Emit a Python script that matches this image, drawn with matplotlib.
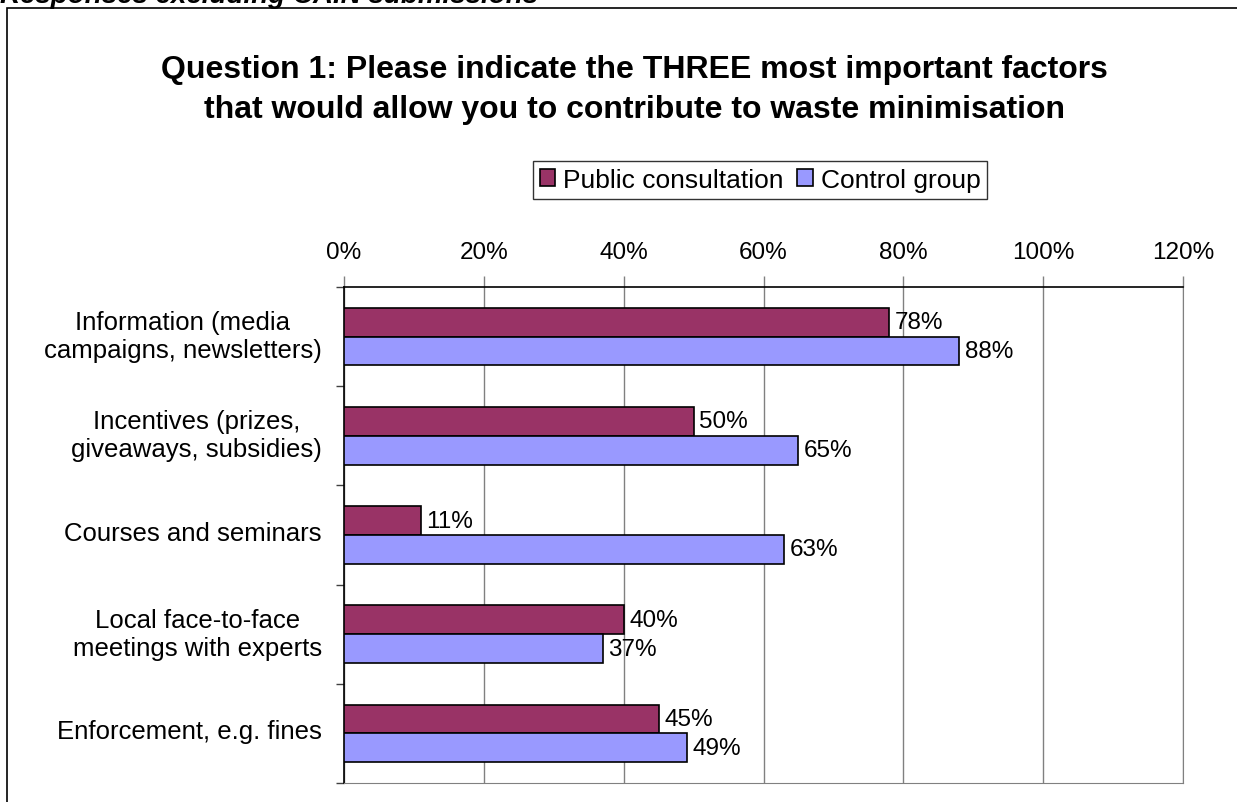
import numpy as np
import matplotlib.pyplot as plt
from matplotlib.patches import Rectangle
from matplotlib.ticker import MultipleLocator, FuncFormatter

plt.rcParams['font.family'] = ['Liberation Sans', 'DejaVu Sans']

categories = [
    'Information (media\ncampaigns, newsletters)',
    'Incentives (prizes,\ngiveaways, subsidies)',
    'Courses and seminars',
    'Local face-to-face\nmeetings with experts',
    'Enforcement, e.g. fines',
]
public_consultation = [78, 50, 11, 40, 45]
control_group = [88, 65, 63, 37, 49]
series_names = ['Public consultation', 'Control group']
series_colors = ['#993366', '#9999FF']

fig = plt.figure(figsize=(12.37, 8.03), dpi=100)
W, H = 1237, 803

# outer chart border, running off the right and bottom edges
fig.patches.append(Rectangle((7.5 / W, -0.05), 1.1, 1 - 8.5 / H + 0.05,
                             transform=fig.transFigure, fill=False,
                             edgecolor='black', linewidth=1.2))
fig.text(0.0, 1 - 3 / H, 'Responses excluding CAIN submissions',
         fontsize=20, fontweight='bold', fontstyle='italic', va='baseline')

fig.text(634 / W, 1 - 90 / H,
         'Question 1: Please indicate the THREE most important factors\n'
         'that would allow you to contribute to waste minimisation',
         ha='center', va='center', fontsize=23, fontweight='bold',
         linespacing=1.4)

left, right, top, bottom = 344, 1183, 288, 784
ax = fig.add_axes([left / W, 1 - bottom / H, (right - left) / W, (bottom - top) / H])

y = np.arange(len(categories))
bar_h = 0.29
bars1 = ax.barh(y - bar_h / 2, public_consultation, height=bar_h,
                color=series_colors[0], edgecolor='black', linewidth=1.2,
                label=series_names[0], zorder=3)
bars2 = ax.barh(y + bar_h / 2, control_group, height=bar_h,
                color=series_colors[1], edgecolor='black', linewidth=1.2,
                label=series_names[1], zorder=3)

for bars, vals in ((bars1, public_consultation), (bars2, control_group)):
    for b, v in zip(bars, vals):
        ax.text(v + 0.8, b.get_y() + b.get_height() / 2, f'{v}%',
                va='center', ha='left', fontsize=17.5)

ax.set_xlim(0, 120)
ax.set_ylim(len(categories) - 0.5, -0.5)
ax.xaxis.set_major_locator(MultipleLocator(20))
ax.xaxis.set_major_formatter(FuncFormatter(lambda v, p: f'{v:.0f}%'))
ax.xaxis.tick_top()
ax.tick_params(axis='x', direction='out', length=8, width=1, pad=9.5,
               labelsize=17.5, color='#808080')
ax.grid(axis='x', color='#808080', linewidth=1, zorder=0)

# category labels sit a touch above the group centre
ax.set_yticks(y - 0.05)
ax.set_yticklabels(categories, fontsize=18.5, ha='right', multialignment='center',
                   linespacing=1.2)
ax.set_yticks(np.arange(len(categories) + 1) - 0.5, minor=True)
ax.tick_params(axis='y', which='major', length=0, pad=16)
ax.tick_params(axis='y', which='minor', length=6, width=1, color='#404040')

ax.spines['top'].set_color('black')
ax.spines['top'].set_linewidth(1.2)
ax.spines['left'].set_color('black')
ax.spines['left'].set_linewidth(1.2)
ax.spines['right'].set_color('#808080')
ax.spines['bottom'].set_color('#808080')

leg = fig.legend(loc='center', bbox_to_anchor=(760 / W, 1 - 181 / H), ncol=2,
                 fontsize=19, frameon=True, fancybox=False, edgecolor='black',
                 handlelength=0.6, handleheight=0.6, handletextpad=0.3,
                 columnspacing=0.5, borderpad=0.25, borderaxespad=0)
leg.get_frame().set_linewidth(1)

fig.savefig('out.png', dpi=100, facecolor='white')
